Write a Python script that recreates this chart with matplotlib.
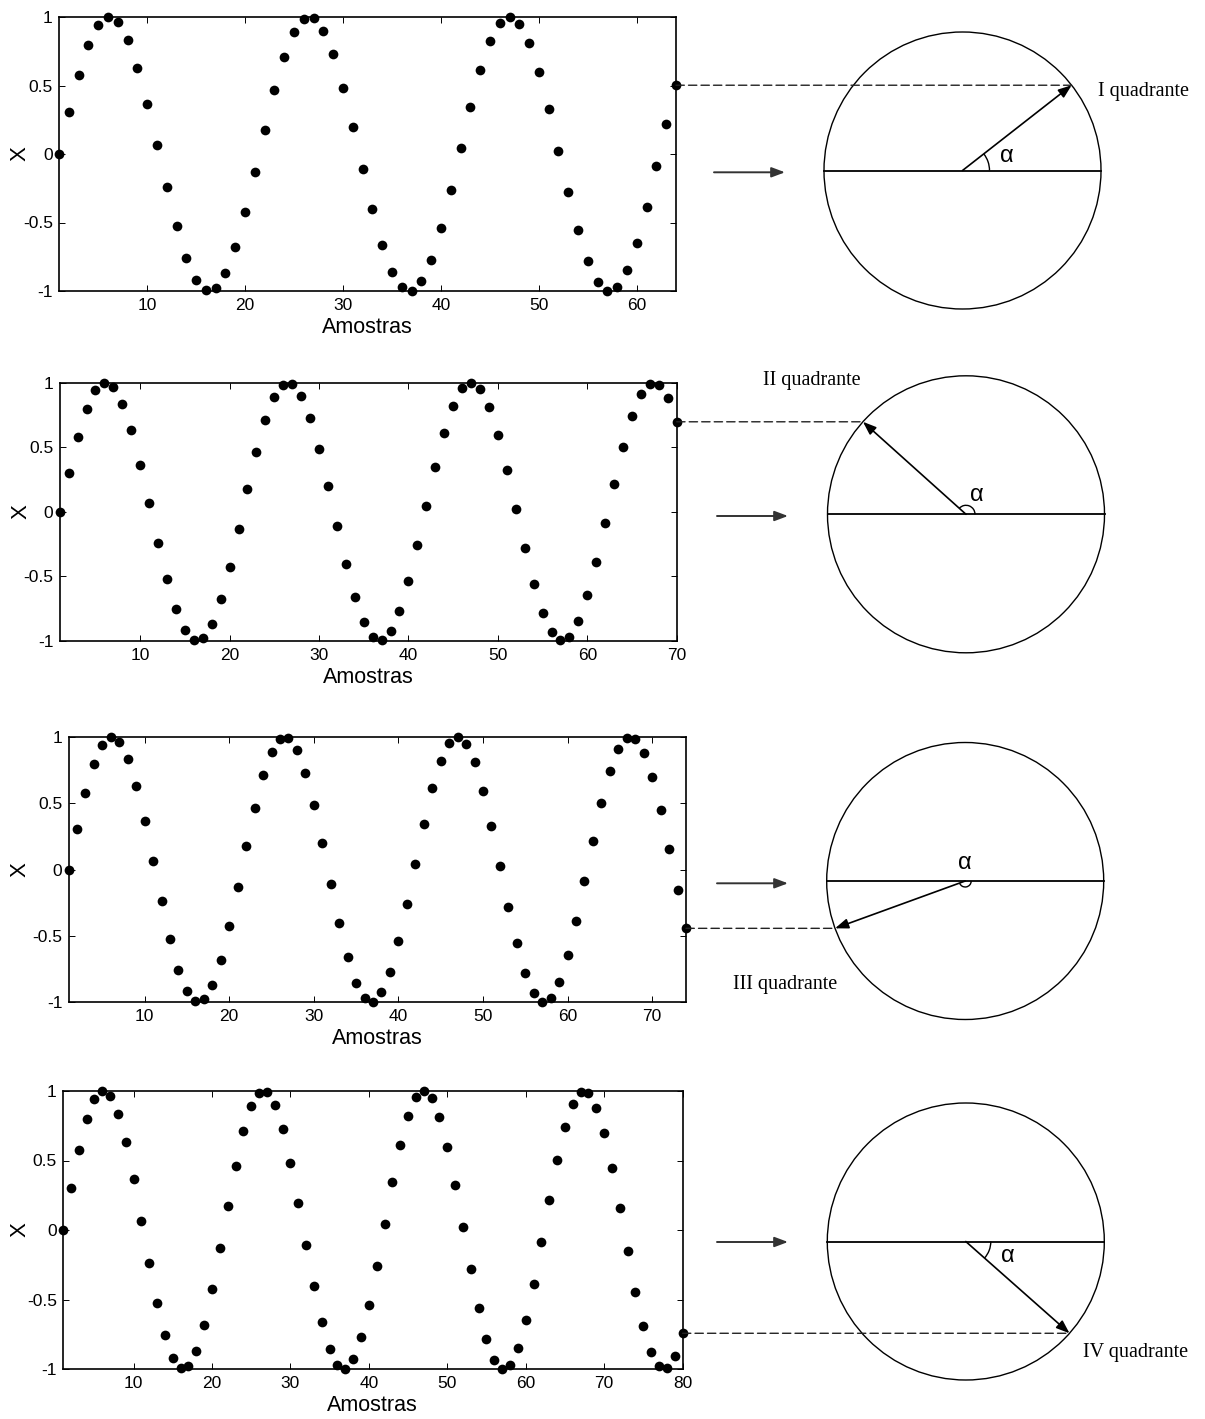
import numpy as np
import matplotlib
matplotlib.use("Agg")
import matplotlib.pyplot as plt
from matplotlib.patches import Circle, Arc, ConnectionPatch
from matplotlib.ticker import FuncFormatter

plt.rcParams["font.family"] = ["Liberation Sans", "DejaVu Sans"]
plt.rcParams["axes.unicode_minus"] = False

# amostras do sinal (a figura i mostra as primeiras n_amostras[i])
amostras = np.arange(1, 81)
sinal = [0.000, 0.303, 0.577, 0.797, 0.943, 1.000, 0.963, 0.835, 0.630, 0.365,
         0.066, -0.239, -0.522, -0.756, -0.918, -0.995, -0.978, -0.870, -0.680, -0.426,
         -0.132, 0.174, 0.464, 0.711, 0.890, 0.986, 0.990, 0.900, 0.727, 0.485,
         0.197, -0.109, -0.405, -0.663, -0.858, -0.973, -0.997, -0.927, -0.771, -0.541,
         -0.262, 0.043, 0.343, 0.612, 0.822, 0.956, 1.000, 0.950, 0.811, 0.596,
         0.325, 0.023, -0.281, -0.558, -0.783, -0.935, -0.998, -0.969, -0.848, -0.647,
         -0.387, -0.089, 0.217, 0.502, 0.740, 0.909, 0.993, 0.983, 0.881, 0.697,
         0.447, 0.155, -0.152, -0.444, -0.694, -0.879, -0.982, -0.993, -0.910, -0.743]
n_amostras = [64, 70, 74, 80]
y_ticks = [-1, -0.5, 0, 0.5, 1]
quadrantes = ["I quadrante", "II quadrante", "III quadrante", "IV quadrante"]

W, H = 1205, 1419
fig = plt.figure(figsize=(W / 100, H / 100), dpi=100)

# caixas dos eixos em pixels: (esq, topo, dir, base)
caixas = [(59, 17, 676, 291), (59.7, 382.7, 676.7, 640.7),
          (68.5, 737, 686, 1002), (63, 1091, 682.5, 1369)]
centros = [(962.5, 170.5), (966, 514.3), (965.2, 881.0), (965.8, 1241.5)]
raio = 138.5
arco_r = [27, 9, 6, 25]
alfa_off = [(44, -14), (11, -19), (0, -18), (42.5, 15)]
rotulo_pos = [(1098, 91.7), (762.7, 380.7), (732.7, 984), (1083.3, 1352.3)]
setas = [(714, 785, 172.3), (717, 788, 516), (717, 788, 883.3), (717, 788, 1242)]

fmt = FuncFormatter(lambda v, p: "%g" % v)

ov = fig.add_axes([0, 0, 1, 1])
ov.set_xlim(0, W)
ov.set_ylim(H, 0)
ov.axis("off")

for i, n in enumerate(n_amostras):
    l, t, r, b = caixas[i]
    ax = fig.add_axes([l / W, 1 - b / H, (r - l) / W, (b - t) / H])
    xs = amostras[:n]
    ys = sinal[:n]
    ax.plot(xs, ys, "o", ms=7.0, mew=0, color="k", clip_on=False, zorder=3)
    ax.set_xlim(1, n)
    ax.set_ylim(-1, 1)
    ax.set_xticks(range(10, n + 1, 10))
    ax.set_yticks(y_ticks)
    ax.yaxis.set_major_formatter(fmt)
    ax.tick_params(direction="in", length=4, width=0.7, top=True, right=True,
                   labelsize=12.5)
    ax.tick_params(axis="x", pad=5)
    ax.tick_params(axis="y", pad=4.5)
    for s in ax.spines.values():
        s.set_linewidth(1.2)
    ax.set_xlabel("Amostras", fontsize=15.5, labelpad=3)
    ax.set_ylabel("X", fontsize=16)
    ax.yaxis.set_label_coords((31 - l) / (r - l), 0.5)

    # circulo trigonometrico
    cx, cy = centros[i]
    ov.add_patch(Circle((cx, cy), raio, fill=False, lw=1.0, ec="k"))
    ov.plot([cx - raio, cx + raio], [cy, cy], color="k", lw=1.3)

    # ponto final projetado no circulo
    v = ys[-1]
    py = t + (1 - v) / 2 * (b - t)
    dx = np.sqrt(raio ** 2 - (py - cy) ** 2)
    lado = 1 if ys[-1] > ys[-2] else -1
    px = cx + lado * dx

    con = ConnectionPatch(xyA=(n, v), coordsA=ax.transData,
                          xyB=(px, py), coordsB=ov.transData,
                          ls=(0, (6, 3)), lw=1.0, color="#222222", zorder=1)
    fig.add_artist(con)

    ov.annotate("", xy=(px, py), xytext=(cx, cy),
                arrowprops=dict(arrowstyle="-|>,head_length=0.8,head_width=0.3",
                                mutation_scale=10, lw=1.2, color="k",
                                shrinkA=0, shrinkB=0))

    ang = np.degrees(np.arctan2(cy - py, px - cx))
    ar = arco_r[i]
    ov.add_patch(Arc((cx, cy), 2 * ar, 2 * ar, theta1=-max(0, ang),
                     theta2=-min(0, ang), lw=1.0, color="k"))
    ox, oy = alfa_off[i]
    ov.text(cx + ox, cy + oy, "α", fontsize=17, ha="center", va="center")

    tx, ty = rotulo_pos[i]
    ov.text(tx, ty, quadrantes[i], fontsize=14.5, ha="left", va="center",
            family=["Liberation Serif", "DejaVu Serif"])

    x0, x1, ya = setas[i]
    ov.annotate("", xy=(x1, ya), xytext=(x0, ya),
                arrowprops=dict(arrowstyle="-|>,head_length=0.8,head_width=0.3",
                                mutation_scale=10, lw=1.4, color="#333333",
                                shrinkA=0, shrinkB=0))

fig.savefig("out.png", dpi=100)
